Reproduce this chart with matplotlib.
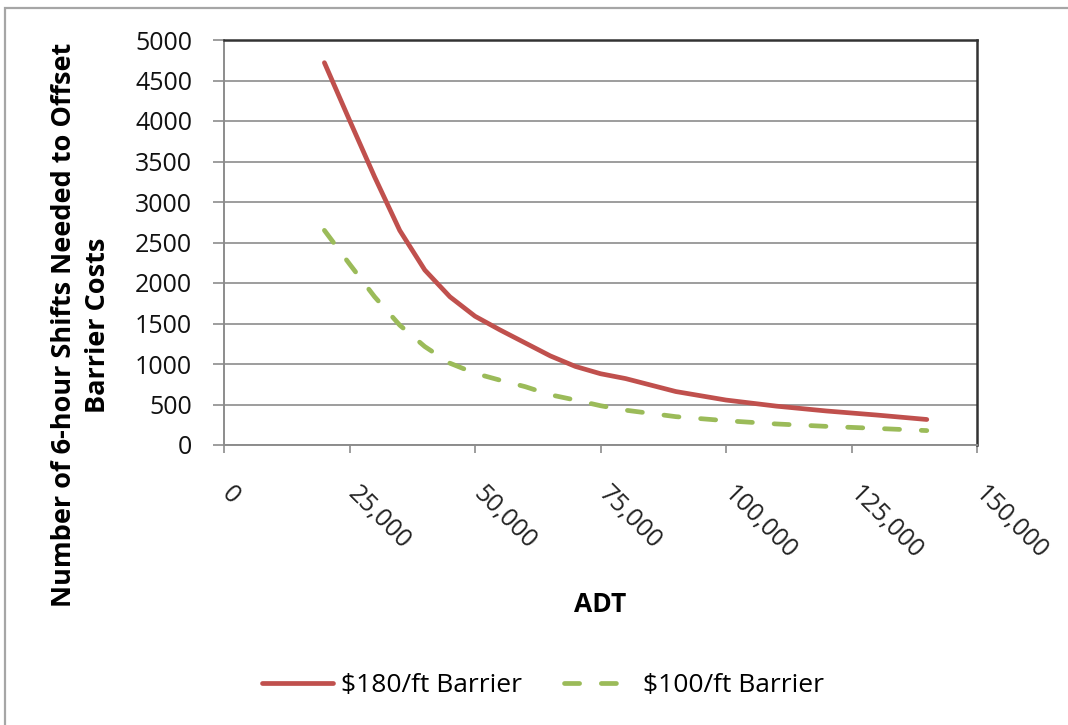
import matplotlib
matplotlib.use("Agg")
import matplotlib.pyplot as plt
import matplotlib.transforms as mtransforms
from matplotlib.patches import Rectangle

plt.rcParams['font.family'] = ['Open Sans', 'DejaVu Sans']

# values
adt = [20000, 25000, 30000, 35000, 40000, 45000, 50000, 55000, 60000, 65000,
       70000, 75000, 80000, 90000, 100000, 110000, 120000, 130000, 140000]
shifts_180 = [4720, 4010, 3310, 2650, 2160, 1830, 1590, 1420, 1260, 1100,
              970, 880, 820, 660, 555, 480, 420, 370, 315]
shifts_100 = [2650, 2235, 1830, 1480, 1215, 1010, 885, 800, 720, 620,
              555, 485, 430, 350, 300, 260, 230, 205, 178]
x_ticks = [0, 25000, 50000, 75000, 100000, 125000, 150000]
y_ticks = list(range(0, 5001, 500))

red = "#C0504D"
green = "#9BBB59"
grid_col = "#8c8c8c"

fig = plt.figure(figsize=(10.68, 7.25), dpi=100)
ax = fig.add_axes([224/1068, 1 - 445/725, (977-224)/1068, (445-40)/725])

# outer chart border (left and top edges visible)
fig.patches.append(Rectangle((5/1068, -0.5), 1.5, 1.5 - 8/725, transform=fig.transFigure,
                             fill=False, ec="#a6a6a6", lw=1.6, zorder=0))

ax.plot(adt, shifts_180, color=red, lw=3.4, solid_capstyle='round',
        label="$180/ft Barrier", zorder=3)
ax.plot(adt, shifts_100, color=green, lw=3.4, ls=(0, (3.2, 4.6)),
        dash_capstyle='round', label="$100/ft Barrier", zorder=3)

ax.set_xlim(0, 150000)
ax.set_ylim(0, 5000)
ax.set_xticks(x_ticks)
ax.set_yticks(y_ticks)
ax.set_xticklabels([f"{v:,}" for v in x_ticks], rotation=-45, ha='left', va='top')
ax.set_yticklabels([str(v) for v in y_ticks])

ax.grid(axis='y', color=grid_col, lw=1.2, zorder=0)
ax.tick_params(axis='y', direction='out', length=8, width=1.2, color=grid_col,
               pad=15, labelsize=18, labelcolor='#111111')
ax.tick_params(axis='x', direction='out', length=6, width=1.2, color=grid_col,
               pad=20, labelsize=18, labelcolor='#222222')

offset = mtransforms.ScaledTranslation(-7/100, 0, fig.dpi_scale_trans)
for lbl in ax.get_xticklabels():
    lbl.set_transform(lbl.get_transform() + offset)

ax.spines['left'].set_color(grid_col)
ax.spines['bottom'].set_color(grid_col)
ax.spines['left'].set_linewidth(1.4)
ax.spines['bottom'].set_linewidth(1.4)
ax.spines['top'].set_color('#333333')
ax.spines['right'].set_color('#333333')
ax.spines['top'].set_linewidth(1.8)
ax.spines['right'].set_linewidth(1.8)

fig.text(600/1068, 1 - 605/725, "ADT", ha='center', va='center',
         fontsize=19, fontweight='bold')
fig.text(81/1068, 1 - 325/725, "Number of 6-hour Shifts Needed to Offset\nBarrier Costs",
         ha='center', va='center', rotation=90, fontsize=19.5, fontweight='bold',
         linespacing=1.4)

fig.legend(loc='center', bbox_to_anchor=(543/1068, 1 - 686/725), ncol=2,
           frameon=False, fontsize=19, handlelength=2.7, handletextpad=0.3,
           columnspacing=1.6)

fig.savefig("out.png", dpi=100)
